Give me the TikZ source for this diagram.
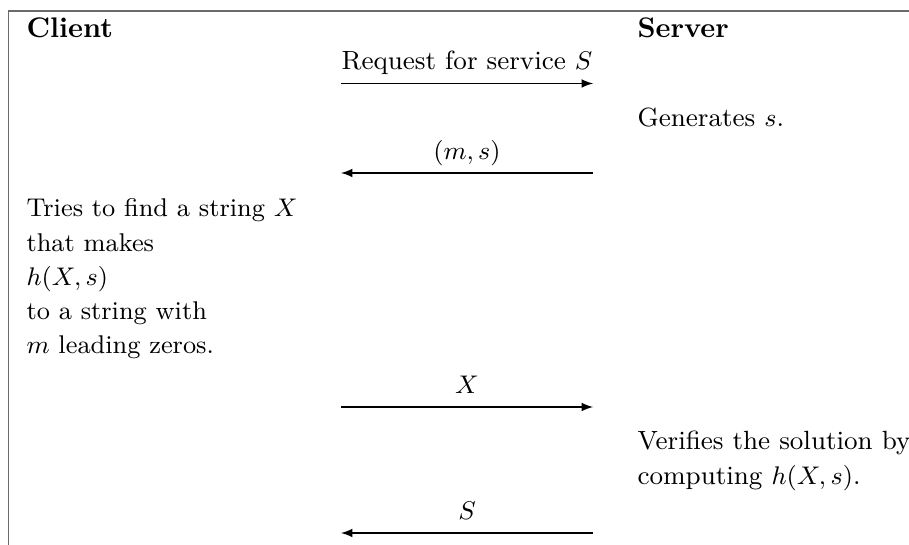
\documentclass[tikz,border=0pt]{standalone}
\begin{document}
\begin{tikzpicture}[x=0.3529pt,y=-0.3529pt,
	every node/.style={inner sep=0pt,anchor=base west,font=\fontsize{9.3pt}{12pt}\selectfont},
	head/.style={font=\bfseries},
	side/.style={font=\fontsize{9.05pt}{12pt}\selectfont},
	msg/.style={-latex,line width=0.4pt},
	lbl/.style={midway,anchor=base,yshift=4.9pt}]
\useasboundingbox (0,0) rectangle (909,545);
\draw[black!58,line width=0.7pt] (8.5,545) -- (8.5,11.5) -- (909,11.5);
\node[head] (client) at (26,38) {Client};
\node[head] (server) at (637,38) {Server};
% ends of the messages
\coordinate (c1) at (341,83.5);  \coordinate (s1) at (593,83.5);
\coordinate (c2) at (341,173);   \coordinate (s2) at (593,173);
\coordinate (c3) at (341,407);   \coordinate (s3) at (593,407);
\coordinate (c4) at (341,533);   \coordinate (s4) at (593,533);
\draw[msg] (c1) -- (s1) node[lbl] (req) {Request for service $S$};
\node (gen) at (637,127) {Generates $s$.};
\draw[msg] (s2) -- (c2) node[lbl] (ms) {$(m,s)$};
\foreach \t [count=\i from 0] in {Tries to find a string $X$,that makes,{$h(X,s)$},to a string with,$m$ leading zeros.}
	\node[side] (try\i) at (26,217+34.2*\i) {\t};
\draw[msg] (c3) -- (s3) node[lbl] (x) {$X$};
\node (ver0) at (637,450) {Verifies the solution by};
\node (ver1) at (637,485) {computing $h(X,s)$.};
\draw[msg] (s4) -- (c4) node[lbl] (svc) {$S$};
\end{tikzpicture}
\end{document}
